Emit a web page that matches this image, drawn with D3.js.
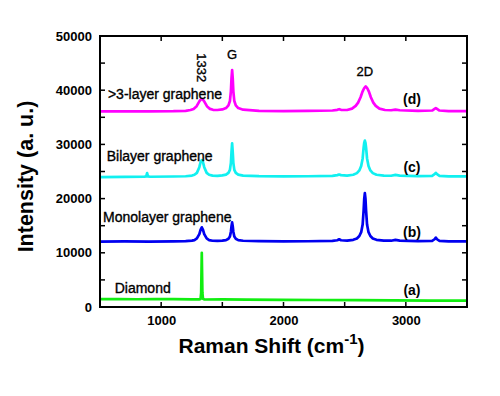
<!DOCTYPE html>
<html>
<head>
<meta charset="utf-8">
<script src="https://cdn.jsdelivr.net/npm/d3@7"></script>
<style>
  body { margin: 0; background: #fff; }
  text { font-family: Arial, "Liberation Sans", sans-serif; }
</style>
</head>
<body>
<div class="graph"></div>
<script>
// Raman spectra, [shift (cm-1), intensity]
var diamond = [[500,1450],[650,1480],[800,1430],[950,1470],[1100,1440],[1250,1420],[1310,1400],[1322,1500],[1327,2600],[1330,7000],[1332,10000],[1334,7000],[1337,2600],[1342,1500],[1354,1380],[1500,1400],[1700,1360],[2000,1330],[2300,1290],[2600,1260],[2900,1220],[3200,1190],[3500,1160]];

var monolayer = [[500,12050],[700,12100],[900,12080],[1100,12120],[1200,12150],[1252,12250],[1272,12350],[1292,12650],[1312,13450],[1322,14250],[1332,14700],[1342,14250],[1352,13450],[1372,12650],[1392,12350],[1420,12220],[1460,12200],[1500,12250],[1530,12350],[1550,12600],[1562,13000],[1570,13900],[1575,14900],[1580,15600],[1585,14900],[1590,13900],[1598,13000],[1610,12600],[1630,12350],[1670,12220],[1800,12150],[2000,12120],[2200,12130],[2400,12200],[2440,12320],[2455,12500],[2470,12320],[2520,12250],[2570,12400],[2600,12650],[2620,13100],[2635,13800],[2647,15200],[2655,17800],[2660,20000],[2665,21000],[2670,20000],[2675,17800],[2683,15200],[2695,13800],[2710,13100],[2730,12650],[2760,12400],[2820,12250],[2880,12230],[2915,12380],[2950,12250],[3100,12150],[3215,12200],[3235,12500],[3245,12800],[3255,12500],[3275,12200],[3350,12100],[3500,12100]];

var bilayer = [[500,23950],[700,24000],[860,24030],[878,24100],[885,24700],[892,24100],[910,24030],[1100,24080],[1200,24120],[1252,24250],[1272,24400],[1292,24750],[1312,25800],[1322,26700],[1332,27100],[1342,26700],[1352,25800],[1372,24750],[1392,24400],[1420,24230],[1460,24200],[1500,24280],[1530,24420],[1550,24750],[1562,25300],[1570,26600],[1575,28600],[1580,30200],[1585,28600],[1590,26600],[1598,25300],[1610,24750],[1630,24420],[1670,24250],[1800,24150],[2000,24100],[2200,24120],[2400,24180],[2440,24330],[2455,24450],[2470,24330],[2520,24250],[2570,24400],[2600,24700],[2620,25200],[2635,26000],[2647,27400],[2655,29400],[2660,30300],[2665,30700],[2670,30300],[2675,29400],[2683,27400],[2695,26000],[2710,25200],[2730,24700],[2760,24400],[2820,24250],[2880,24220],[2915,24380],[2950,24250],[3100,24150],[3215,24200],[3235,24500],[3245,24750],[3255,24500],[3275,24200],[3350,24100],[3500,24100]];

var multilayer = [[500,36100],[700,36080],[900,36100],[1100,36130],[1200,36200],[1240,36350],[1265,36550],[1290,37050],[1310,37850],[1322,38250],[1332,38350],[1342,38250],[1354,37850],[1374,37050],[1399,36550],[1424,36380],[1460,36350],[1500,36450],[1530,36700],[1550,37200],[1562,38000],[1570,39800],[1575,42200],[1580,43700],[1585,42200],[1590,39800],[1598,38000],[1610,37200],[1630,36700],[1670,36400],[1800,36200],[2000,36150],[2200,36170],[2400,36250],[2440,36380],[2455,36500],[2470,36380],[2520,36350],[2560,36600],[2590,37100],[2610,37700],[2630,38700],[2645,39700],[2660,40400],[2672,40700],[2684,40400],[2699,39700],[2714,38700],[2734,37700],[2754,37100],[2784,36600],[2830,36350],[2880,36300],[2915,36420],[2950,36300],[3100,36200],[3215,36250],[3235,36550],[3245,36700],[3255,36550],[3275,36250],[3350,36150],[3500,36150]];

var seriesNames = ["Diamond", "Monolayer graphene", "Bilayer graphene", ">3-layer graphene"];
var seriesTags = ["(a)", "(b)", "(c)", "(d)"];
var peakNames = ["1332", "G", "2D"];
var xTicks = [1000, 2000, 3000];
var yTicks = [0, 10000, 20000, 30000, 40000, 50000];

var margin = {top: 36, right: 33, bottom: 89, left: 100},
    width = 500 - margin.left - margin.right,
    height = 396 - margin.top - margin.bottom;

var x = d3.scaleLinear().domain([500, 3500]).range([0, width]);
var y = d3.scaleLinear().domain([0, 50000]).range([height, 0]);

var svg = d3.select("div.graph").append("svg")
    .attr("width", 500)
    .attr("height", 396)
  .append("g")
    .attr("transform", "translate(" + margin.left + "," + margin.top + ")");

var spectra = [
  {data: diamond, color: "#11ee11"},
  {data: monolayer, color: "#0000f0"},
  {data: bilayer, color: "#11f0f0"},
  {data: multilayer, color: "#ff00ff"}
];

var line = d3.line()
    .x(function(d) { return x(d[0]); })
    .y(function(d) { return y(d[1]); });

spectra.forEach(function(s) {
  svg.append("path")
      .datum(s.data)
      .attr("fill", "none")
      .attr("stroke", s.color)
      .attr("stroke-width", 2.7)
      .attr("stroke-linejoin", "round")
      .attr("d", line);
});

// axes, ticks all pointing inward
var minorX = d3.range(500, 3501, 500);
var minorY = d3.range(0, 50001, 5000);

svg.append("g")
    .attr("transform", "translate(0," + height + ")")
    .attr("class", "x-axis")
    .call(d3.axisBottom(x).tickValues(xTicks).tickSize(0).tickPadding(9).tickFormat(d3.format("d")));

svg.append("g")
    .attr("class", "y-axis")
    .call(d3.axisLeft(y).tickValues(yTicks).tickSize(0).tickPadding(8).tickFormat(d3.format("d")));

svg.selectAll(".x-axis text, .y-axis text")
    .style("font-size", "13px")
    .style("font-weight", "bold")
    .attr("fill", "#000");
svg.selectAll(".x-axis .domain, .y-axis .domain").remove();

var tickLen = 5;
svg.selectAll("line.xt")
  .data(minorX.slice(1, -1))
  .enter().append("line")
    .attr("x1", function(d) { return x(d); })
    .attr("x2", function(d) { return x(d); })
    .attr("y1", height).attr("y2", height - tickLen)
    .attr("stroke", "#000").attr("stroke-width", 1.5);
svg.selectAll("line.xtt")
  .data(minorX.slice(1, -1))
  .enter().append("line")
    .attr("x1", function(d) { return x(d); })
    .attr("x2", function(d) { return x(d); })
    .attr("y1", 0).attr("y2", tickLen)
    .attr("stroke", "#000").attr("stroke-width", 1.5);
svg.selectAll("line.yt")
  .data(minorY.slice(1, -1))
  .enter().append("line")
    .attr("x1", 0).attr("x2", tickLen)
    .attr("y1", function(d) { return y(d); })
    .attr("y2", function(d) { return y(d); })
    .attr("stroke", "#000").attr("stroke-width", 1.5);
svg.selectAll("line.ytr")
  .data(minorY.slice(1, -1))
  .enter().append("line")
    .attr("x1", width).attr("x2", width - tickLen)
    .attr("y1", function(d) { return y(d); })
    .attr("y2", function(d) { return y(d); })
    .attr("stroke", "#000").attr("stroke-width", 1.5);

svg.append("rect")
    .attr("width", width)
    .attr("height", height)
    .attr("fill", "none")
    .attr("stroke", "#000")
    .attr("stroke-width", 2);

// axis titles
svg.append("text")
    .attr("transform", "translate(" + (-67) + "," + (height / 2 + 5) + ") rotate(-90)")
    .attr("text-anchor", "middle")
    .style("font-size", "21.5px")
    .style("font-weight", "bold")
    .text("Intensity (a. u.)");

var xTitle = svg.append("text")
    .attr("x", width / 2 - 12)
    .attr("y", height + 46)
    .attr("text-anchor", "middle")
    .style("font-size", "21px")
    .style("font-weight", "bold");
xTitle.append("tspan").text("Raman Shift (cm");
xTitle.append("tspan").attr("dy", -9).style("font-size", "15px").text("-1");
xTitle.append("tspan").attr("dy", 9).text(")");

// sample names, left of the curves (a bit heavier than plain text)
var nameAt = [[620, 2600], [525, 15600], [555, 27000], [565, 38300]];
svg.selectAll("text.name")
  .data(seriesNames)
  .enter().append("text")
    .attr("class", "name")
    .attr("x", function(d, i) { return x(nameAt[i][0]); })
    .attr("y", function(d, i) { return y(nameAt[i][1]); })
    .attr("stroke", "#000")
    .attr("stroke-width", 0.35)
    .style("font-size", "14px")
    .text(function(d) { return d; });

var tagY = [2200, 13000, 25000, 37500];
svg.selectAll("text.tag")
  .data(seriesTags)
  .enter().append("text")
    .attr("class", "tag")
    .attr("x", x(3050))
    .attr("y", function(d, i) { return y(tagY[i]); })
    .attr("text-anchor", "middle")
    .style("font-size", "14px")
    .style("font-weight", "bold")
    .text(function(d) { return d; });

// peak labels
svg.append("text")
    .attr("transform", "translate(" + (x(1332) - 5) + "," + y(46800) + ") rotate(90)")
    .attr("stroke", "#000")
    .attr("stroke-width", 0.35)
    .style("font-size", "13px")
    .text(peakNames[0]);
svg.append("text")
    .attr("x", x(1580))
    .attr("y", y(45800))
    .attr("text-anchor", "middle")
    .attr("stroke", "#000")
    .attr("stroke-width", 0.35)
    .style("font-size", "13px")
    .text(peakNames[1]);
svg.append("text")
    .attr("x", x(2665))
    .attr("y", y(42700))
    .attr("text-anchor", "middle")
    .attr("stroke", "#000")
    .attr("stroke-width", 0.35)
    .style("font-size", "13px")
    .text(peakNames[2]);
</script>
</body>
</html>
